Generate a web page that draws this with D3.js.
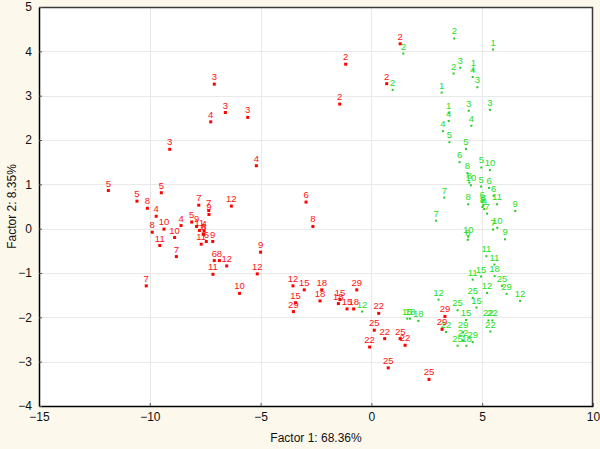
<!DOCTYPE html>
<html><head><meta charset="utf-8">
<script src="https://cdn.jsdelivr.net/npm/d3@7"></script>
<style>
body{margin:0;background:#fcf8ec;}
svg{display:block;font-family:"Liberation Sans",Arial,sans-serif;}
</style>
</head><body>
<svg id="chart" width="600" height="449"></svg>
<script>
const xTicks = [-15, -10, -5, 0, 5, 10];
const yTicks = [-4, -3, -2, -1, 0, 1, 2, 3, 4, 5];
const xTitle = "Factor 1: 68.36%";
const yTitle = "Factor 2: 8.35%";

const redLabels = ["3","3","3","3","4","4","5","5","5","8","4","7","7","9","12","5","9","4","10","8","10","11","11","4","6","8","11","6","9","7","6","8","12","11","9","12","10","7","6","8",
  "2","2","2","2","12","15","15","29","18","18","15","18","29","15","18","22","25","22","22","25","22","25","25","29","29"];
const redX = [-9.10,-7.09,-6.59,-5.58,-7.25,-5.19,-11.87,-9.48,-10.58,-10.11,-9.71,-7.79,-7.34,-7.33,-6.32,-8.11,-7.89,-8.59,-9.36,-9.89,-8.88,-9.55,-7.76,-7.55,-7.59,-7.56,-7.68,-7.45,-7.16,-8.80,-7.09,-6.86,-6.53,-7.15,-5.00,-5.15,-5.95,-10.16,-2.95,-2.64,
  1.30,-1.16,0.69,-1.43,-3.54,-3.03,-3.42,-3.52,-2.24,-2.32,-1.42,-1.49,-0.66,-1.10,-0.80,0.33,0.13,0.60,-0.08,1.30,1.52,0.76,2.60,3.32,3.19];
const redY = [1.79,3.26,2.62,2.51,2.41,1.42,0.86,0.81,0.62,0.46,0.28,0.53,0.41,0.32,0.51,0.15,0.05,0.07,-0.01,-0.08,-0.20,-0.38,-0.04,-0.05,-0.12,-0.13,-0.35,-0.29,-0.29,-0.63,-0.72,-0.72,-0.84,-1.03,-0.53,-1.02,-1.46,-1.29,0.60,0.05,
  4.17,3.71,3.27,2.81,-1.29,-1.38,-1.67,-1.87,-1.38,-1.63,-1.60,-1.69,-1.38,-1.81,-1.81,-1.91,-2.29,-2.48,-2.67,-2.48,-2.63,-3.14,-3.40,-1.98,-2.27];

const greenLabels = ["2","1","2","2","3","2","1","4","3","1","3","3","1","4","4","4","5","5","6","5","10","8","8","10","5","6","6","7","8","6","8","8","11","9","9","7","7","7","10","9","10","8",
  "11","11","11","15","18","25","29","12","25","12","12","15","25","15","22","22","22","22","29","25","18","22","29","12","15","18","18"];
const greenX = [3.74,5.49,1.44,0.96,4.01,3.71,4.60,4.57,4.78,3.17,4.39,5.35,3.49,3.49,4.51,3.23,3.52,4.27,3.98,4.96,5.35,4.33,4.42,4.49,4.95,5.31,5.52,3.29,4.37,5.00,5.05,5.01,5.67,6.49,5.09,5.22,2.92,5.49,5.68,6.03,4.37,4.35,
  5.19,5.55,4.57,4.95,5.56,5.89,6.10,5.22,4.57,6.71,3.03,4.74,3.89,4.27,5.28,5.46,5.37,3.37,4.13,3.89,4.29,4.13,4.57,-0.42,1.62,1.74,2.12];
const greenY = [4.29,4.04,3.95,3.13,3.63,3.50,3.58,3.42,3.19,3.07,2.66,2.68,2.61,2.43,2.32,2.20,1.95,1.80,1.50,1.38,1.32,1.25,1.04,0.98,0.95,0.92,0.74,0.70,0.55,0.60,0.53,0.49,0.55,0.40,0.44,0.34,0.18,-0.02,0.02,-0.24,-0.18,-0.25,
  -0.62,-0.81,-1.15,-1.08,-1.07,-1.29,-1.47,-1.45,-1.56,-1.63,-1.60,-1.78,-1.84,-2.06,-2.07,-2.07,-2.32,-2.33,-2.34,-2.64,-2.64,-2.52,-2.56,-1.87,-2.03,-2.03,-2.08];

const svg = d3.select("#chart");
const W = 600, H = 449;
svg.append("rect").attr("width", W).attr("height", H).attr("fill", "#fcf8ec");

const x = d3.scaleLinear().domain([-15, 10]).range([39, 593]);
const y = d3.scaleLinear().domain([-4, 5]).range([406, 7]);

svg.append("rect").attr("x", x(-15)).attr("y", y(5))
  .attr("width", x(10) - x(-15)).attr("height", y(-4) - y(5))
  .attr("fill", "#ffffff");

const grid = svg.append("g").attr("stroke", "#e9e9e9").attr("stroke-width", 1);
grid.selectAll("line.vx").data(xTicks.slice(1, -1)).join("line")
  .attr("x1", d => Math.round(x(d)) + 0.5).attr("x2", d => Math.round(x(d)) + 0.5)
  .attr("y1", y(5)).attr("y2", y(-4));
grid.selectAll("line.hy").data(yTicks.slice(1, -1)).join("line")
  .attr("y1", d => Math.round(y(d)) + 0.5).attr("y2", d => Math.round(y(d)) + 0.5)
  .attr("x1", x(-15)).attr("x2", x(10));

svg.append("path")
  .attr("d", `M${x(-15)},${y(5)+0.5}H${x(10)-0.5}V${y(-4)}`)
  .attr("fill", "none").attr("stroke", "#3a3a3a").attr("stroke-width", 1.5);

const xAxis = svg.append("g").attr("transform", `translate(0,${y(-4)})`)
  .call(d3.axisBottom(x).tickValues(xTicks).tickSizeInner(-3).tickSizeOuter(0).tickPadding(6).tickFormat(d3.format("d")));
const yAxis = svg.append("g").attr("transform", `translate(${x(-15)},0)`)
  .call(d3.axisLeft(y).tickValues(yTicks).tickSizeInner(-3).tickSizeOuter(0).tickPadding(7).tickFormat(d3.format("d")));
[xAxis, yAxis].forEach(g => {
  g.select(".domain").attr("stroke", "#000").attr("stroke-width", 1.5);
  g.selectAll(".tick line").attr("stroke", "#555");
  g.selectAll(".tick text").attr("font-size", 12).attr("fill", "#111")
    .attr("font-family", '"Liberation Sans",Arial,sans-serif');
});

svg.append("text").attr("x", (x(-15) + x(10)) / 2).attr("y", 442)
  .attr("text-anchor", "middle").attr("font-size", 12).attr("fill", "#111").text(xTitle);
svg.append("text").attr("transform", `translate(16,${(y(5) + y(-4)) / 2}) rotate(-90)`)
  .attr("text-anchor", "middle").attr("font-size", 12).attr("fill", "#111").text(yTitle);

function drawSeries(labels, xs, ys, color, markColor, size) {
  const data = labels.map((l, i) => ({l, x: xs[i], y: ys[i]}));
  const g = svg.append("g");
  g.selectAll("rect").data(data).join("rect")
    .attr("x", d => x(d.x) - size / 2).attr("y", d => y(d.y) - size / 2)
    .attr("width", size).attr("height", size).attr("fill", markColor);
  g.selectAll("text").data(data).join("text")
    .attr("x", d => x(d.x)).attr("y", d => y(d.y) - 4)
    .attr("text-anchor", "middle").attr("font-size", 9.5).attr("fill", color)
    .text(d => d.l);
}
drawSeries(greenLabels, greenX, greenY, "#22e022", "#22cc22", 2);
drawSeries(redLabels, redX, redY, "#ff1010", "#ff0000", 3);
</script>
</body></html>
